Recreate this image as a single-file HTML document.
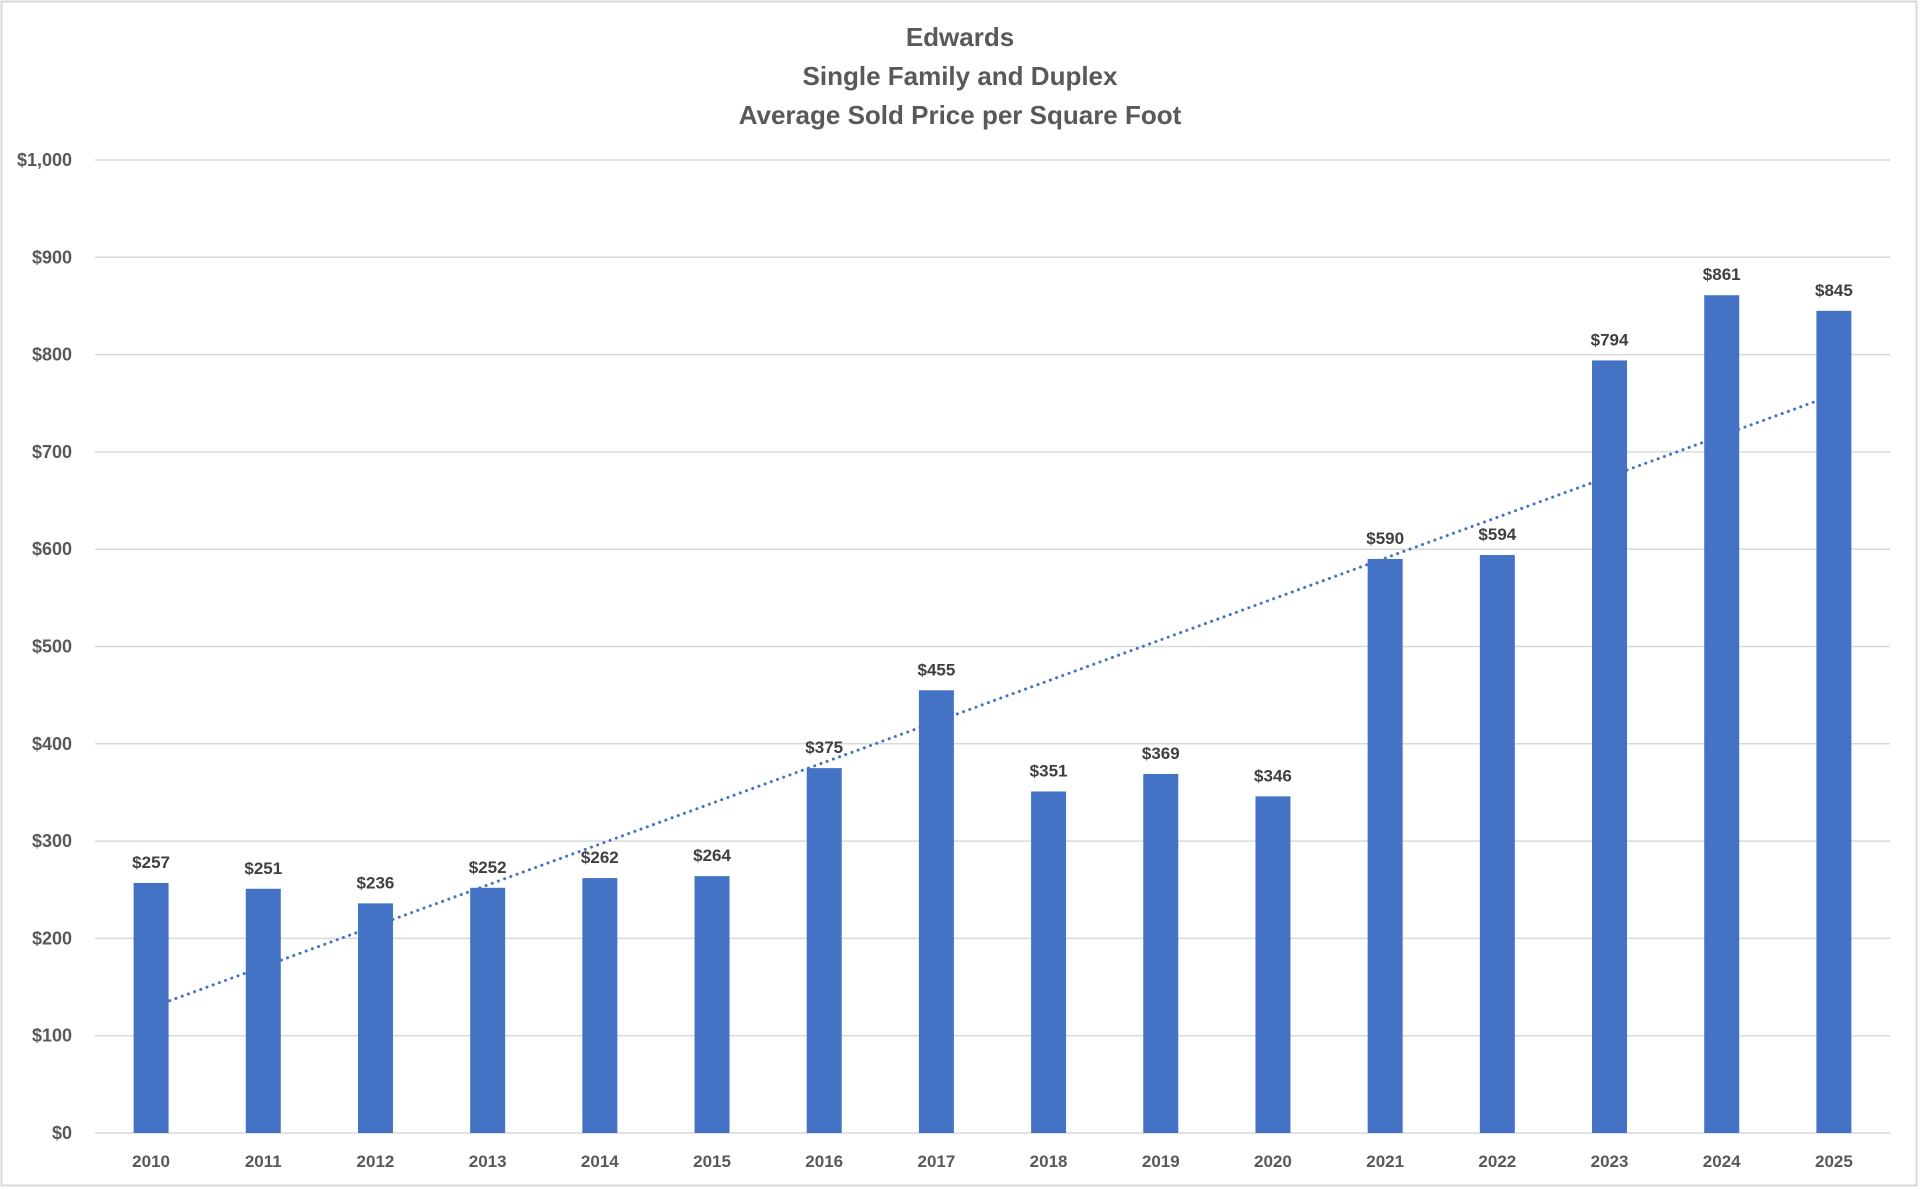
<!DOCTYPE html>
<html><head><meta charset="utf-8"><style>
html,body{margin:0;padding:0;background:#fff;}
svg{display:block;font-family:"Liberation Sans",sans-serif;}
</style></head><body>
<svg id="chart" width="1920" height="1189">
<rect x="1.5" y="1.5" width="1915" height="1184" fill="#fff" stroke="#d9d9d9" stroke-width="2"/>
<g fill="#595959" font-weight="bold" font-size="26" text-anchor="middle">
<text x="960" y="46">Edwards</text>
<text x="960" y="85">Single Family and Duplex</text>
<text x="960" y="124">Average Sold Price per Square Foot</text>
</g>
<g id="grid"></g><g id="bars"></g><g id="trend"></g><g id="labels"></g><g id="axes"></g>
</svg>
<script>
const categories=["2010","2011","2012","2013","2014","2015","2016","2017","2018","2019","2020","2021","2022","2023","2024","2025"];
const values=[257,251,236,252,262,264,375,455,351,369,346,590,594,794,861,845];
const yTicks=[0,100,200,300,400,500,600,700,800,900,1000];
const yTickLabels=["$0","$100","$200","$300","$400","$500","$600","$700","$800","$900","$1,000"];
const NS="http://www.w3.org/2000/svg";
const L=95,R=1890,T=160,B=1133,yMax=1000;
const band=(R-L)/categories.length,bw=35;
const y=v=>B-(v/yMax)*(B-T);
const xc=i=>L+band*(i+0.5);
function mk(tag,attrs,parent){const e=document.createElementNS(NS,tag);for(const k in attrs)e.setAttribute(k,attrs[k]);document.getElementById(parent).appendChild(e);return e;}
yTicks.forEach((t,i)=>{
 const g=mk('line',{x1:L,x2:R,y1:y(t),y2:y(t),stroke:'#d9d9d9','stroke-width':1.5},'grid');
 
 
 const tx=mk('text',{x:72,y:y(t)+6,'text-anchor':'end','font-size':18,'font-weight':'bold',fill:'#595959'},'axes');
 tx.textContent=yTickLabels[i];
 
 
});
values.forEach((v,i)=>{
 const r=mk('rect',{x:xc(i)-bw/2,y:y(v),width:bw,height:B-y(v),fill:'#4472c4'},'bars');
 
 
 const lt=mk('text',{x:xc(i),y:y(v)-15,'text-anchor':'middle','font-size':17,'font-weight':'bold',fill:'#404040'},'labels');
 lt.textContent='$'+v;
 
 
 const xt=mk('text',{x:xc(i),y:1167,'text-anchor':'middle','font-size':17,'font-weight':'bold',fill:'#595959'},'axes');
 xt.textContent=categories[i];
 
 
});
const n=values.length;let sx=0,sy=0,sxy=0,sxx=0;
values.forEach((v,i)=>{sx+=i;sy+=v;sxy+=i*v;sxx+=i*i;});
const m=(n*sxy-sx*sy)/(n*sxx-sx*sx),b=(sy-m*sx)/n;
const tl=mk('line',{x1:xc(0),y1:y(b),x2:xc(n-1),y2:y(b+m*(n-1)),stroke:'#4472c4','stroke-width':3,'stroke-dasharray':'0.1 6.5','stroke-linecap':'round'},'trend');


</script>
</body></html>
